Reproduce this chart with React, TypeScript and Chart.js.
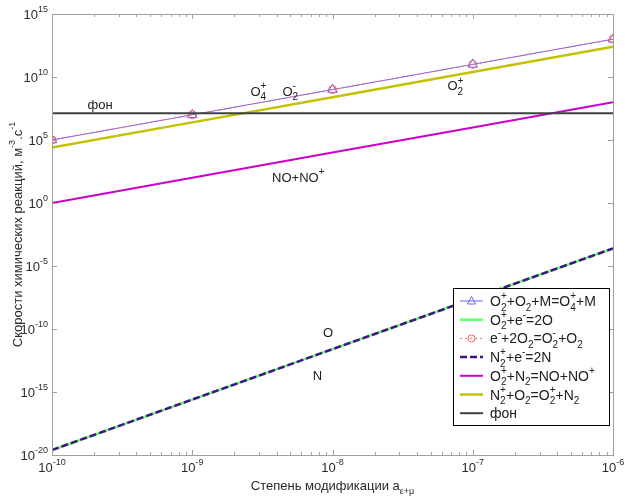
import React, { useEffect, useRef } from 'react';
import { Chart, registerables } from 'chart.js';

Chart.register(...registerables);

// ---- data ----
const modification = [1e-10, 1e-9, 1e-8, 1e-7, 1e-6];
const rateO4 = [1e5, 1e7, 1e9, 1e11, 1e13];
const rateO2e = [2.5e-20, 2.5e-16, 2.5e-12, 2.5e-8, 2.5e-4];
const rateO2minus = [1e5, 1e7, 1e9, 1e11, 1e13];
const rateN = [2.5e-20, 2.5e-16, 2.5e-12, 2.5e-8, 2.5e-4];
const rateNO = [1, 1e2, 1e4, 1e6, 1e8];
const rateCharge = [2.5e4, 2.5e6, 2.5e8, 2.5e10, 2.5e12];
const rateFon = [1.3e7, 1.3e7, 1.3e7, 1.3e7, 1.3e7];

const xTickExps = [-10, -9, -8, -7, -6];
const yTickExps = [-20, -15, -10, -5, 0, 5, 10, 15];

type Seg = { t: string; sub?: string; sup?: string };

const legendLabels: Seg[][] = [
  [{ t: 'O', sub: '2', sup: '+' }, { t: '+O', sub: '2' }, { t: '+M=O', sub: '4', sup: '+' }, { t: '+M' }],
  [{ t: 'O', sub: '2', sup: '+' }, { t: '+e', sup: '-' }, { t: '=2O' }],
  [{ t: 'e', sup: '-' }, { t: '+2O', sub: '2' }, { t: '=O', sub: '2', sup: '-' }, { t: '+O', sub: '2' }],
  [{ t: 'N', sub: '2', sup: '+' }, { t: '+e', sup: '-' }, { t: '=2N' }],
  [{ t: 'O', sub: '2', sup: '+' }, { t: '+N', sub: '2' }, { t: '=NO+NO', sup: '+' }],
  [{ t: 'N', sub: '2', sup: '+' }, { t: '+O', sub: '2' }, { t: '=O', sub: '2', sup: '+' }, { t: '+N', sub: '2' }],
  [{ t: 'фон' }],
];
const seriesNames = [
  'O2+ + O2 + M = O4+ + M',
  'O2+ + e- = 2O',
  'e- + 2O2 = O2- + O2',
  'N2+ + e- = 2N',
  'O2+ + N2 = NO + NO+',
  'N2+ + O2 = O2+ + N2',
  'фон',
];

// annotations (data coordinates)
const annotations: { x: number; y: number; segs: Seg[]; align: 'left' | 'center' }[] = [
  { x: 2.2e-10, y: 7e7, segs: [{ t: 'фон' }], align: 'center' },
  { x: 2.6e-9, y: 8e8, segs: [{ t: 'O', sub: '4', sup: '+' }], align: 'left' },
  { x: 4.4e-9, y: 8e8, segs: [{ t: 'O', sub: '2', sup: '-' }], align: 'left' },
  { x: 6.6e-8, y: 2e9, segs: [{ t: 'O', sub: '2', sup: '+' }], align: 'left' },
  { x: 5.7e-9, y: 1.1e2, segs: [{ t: 'NO+NO', sup: '+' }], align: 'center' },
  { x: 9.3e-9, y: 5e-11, segs: [{ t: 'O' }], align: 'center' },
  { x: 7.8e-9, y: 2.2e-14, segs: [{ t: 'N' }], align: 'center' },
];

const FONT = '"Liberation Sans", Arial, sans-serif';

function richWidth(ctx: CanvasRenderingContext2D, segs: Seg[], size: number, small: number) {
  let w = 0;
  for (const s of segs) {
    ctx.font = `${size}px ${FONT}`;
    w += ctx.measureText(s.t).width;
    if (s.sub || s.sup) {
      ctx.font = `${small}px ${FONT}`;
      w += Math.max(s.sub ? ctx.measureText(s.sub).width : 0, s.sup ? ctx.measureText(s.sup).width : 0);
    }
  }
  return w;
}

function drawRich(
  ctx: CanvasRenderingContext2D,
  segs: Seg[],
  x: number,
  y: number,
  size: number,
  small: number,
  align: 'left' | 'center' | 'right',
  color: string
) {
  const w = richWidth(ctx, segs, size, small);
  let cx = align === 'left' ? x : align === 'center' ? x - w / 2 : x - w;
  const base = y + size * 0.36;
  ctx.fillStyle = color;
  ctx.textAlign = 'left';
  ctx.textBaseline = 'alphabetic';
  for (const s of segs) {
    ctx.font = `${size}px ${FONT}`;
    ctx.fillText(s.t, cx, base);
    cx += ctx.measureText(s.t).width;
    if (s.sub || s.sup) {
      ctx.font = `${small}px ${FONT}`;
      let sw = 0;
      if (s.sub) {
        ctx.fillText(s.sub, cx, base + size * 0.32);
        sw = Math.max(sw, ctx.measureText(s.sub).width);
      }
      if (s.sup) {
        ctx.fillText(s.sup, cx, base - size * 0.5);
        sw = Math.max(sw, ctx.measureText(s.sup).width);
      }
      cx += sw;
    }
  }
}

const COLORS = {
  blue: '#6464ff',
  green: '#66ff66',
  red: '#ff6060',
  purple: '#44128f',
  magenta: '#cc00cc',
  olive: '#c2c200',
  black: '#404040',
};

const styles = [
  { color: COLORS.blue, width: 1, dash: [] as number[], marker: 'triangle', r: 5.5 },
  { color: COLORS.green, width: 2.5, dash: [] as number[], marker: '', r: 0 },
  { color: COLORS.red, width: 1, dash: [2, 3], marker: 'circle', r: 4 },
  { color: COLORS.purple, width: 2.5, dash: [7, 3], marker: '', r: 0 },
  { color: COLORS.magenta, width: 2, dash: [] as number[], marker: '', r: 0 },
  { color: COLORS.olive, width: 2.5, dash: [] as number[], marker: '', r: 0 },
  { color: COLORS.black, width: 2, dash: [] as number[], marker: '', r: 0 },
];

const seriesValues = [rateO4, rateO2e, rateO2minus, rateN, rateNO, rateCharge, rateFon];

const decorPlugin = {
  id: 'decor',
  afterDatasetsDraw(chart: any) {
    const ctx: CanvasRenderingContext2D = chart.ctx;
    const { left, right, top, bottom } = chart.chartArea;
    const xs = chart.scales.x;
    const ys = chart.scales.y;
    ctx.save();
    // frame
    ctx.strokeStyle = '#a0a0a0';
    ctx.lineWidth = 1;
    ctx.setLineDash([]);
    ctx.strokeRect(Math.round(left) + 0.5, Math.round(top) + 0.5, Math.round(right - left), Math.round(bottom - top));
    // x ticks
    ctx.beginPath();
    for (let e = -10; e <= -6; e++) {
      for (let k = 1; k <= 9; k++) {
        const v = k * Math.pow(10, e);
        if (v > 1e-6 * 1.0001) continue;
        const px = Math.round(xs.getPixelForValue(v)) + 0.5;
        const len = k === 1 ? 5 : 3;
        ctx.moveTo(px, bottom);
        ctx.lineTo(px, bottom - len);
        ctx.moveTo(px, top);
        ctx.lineTo(px, top + len);
      }
    }
    for (const e of yTickExps) {
      const py = Math.round(ys.getPixelForValue(Math.pow(10, e))) + 0.5;
      ctx.moveTo(left, py);
      ctx.lineTo(left + 5, py);
      ctx.moveTo(right, py);
      ctx.lineTo(right - 5, py);
    }
    ctx.stroke();

    // tick labels
    const tc = '#2a2a2a';
    for (const e of xTickExps) {
      const px = xs.getPixelForValue(Math.pow(10, e));
      drawRich(ctx, [{ t: '10', sup: String(e) }], px, bottom + 12, 13, 9, 'center', tc);
    }
    for (const e of yTickExps) {
      const py = ys.getPixelForValue(Math.pow(10, e));
      drawRich(ctx, [{ t: '10', sup: String(e) }], left - 4, py, 13, 9, 'right', tc);
    }

    // axis titles
    drawRich(
      ctx,
      [{ t: 'Степень модификации a', sub: 'ε+μ' }],
      (left + right) / 2,
      bottom + 30,
      13,
      9,
      'center',
      tc
    );
    ctx.save();
    ctx.translate(17, (top + bottom) / 2);
    ctx.rotate(-Math.PI / 2);
    drawRich(
      ctx,
      [{ t: 'Скорости химических реакций, м', sup: '-3' }, { t: '.с', sup: '-1' }],
      0,
      0,
      13,
      9,
      'center',
      tc
    );
    ctx.restore();

    // annotations
    for (const a of annotations) {
      const px = xs.getPixelForValue(a.x);
      const py = ys.getPixelForValue(a.y);
      drawRich(ctx, a.segs, px, py, 13, 10, a.align, '#202020');
    }

    // legend
    const lx0 = right - 160;
    const ly0 = bottom - 167;
    const lw = 156;
    const rowH = 18.7;
    const lh = rowH * legendLabels.length + 6;
    ctx.fillStyle = '#ffffff';
    ctx.fillRect(lx0, ly0, lw, lh);
    ctx.strokeStyle = '#000000';
    ctx.lineWidth = 1;
    ctx.strokeRect(Math.round(lx0) + 0.5, Math.round(ly0) + 0.5, lw, Math.round(lh));
    legendLabels.forEach((segs, i) => {
      const st = styles[i];
      const cy = ly0 + 13 + i * rowH;
      const sx0 = lx0 + 7;
      const sx1 = lx0 + 30;
      ctx.beginPath();
      ctx.strokeStyle = st.color;
      ctx.lineWidth = st.width;
      ctx.setLineDash(st.dash);
      ctx.moveTo(sx0, cy);
      ctx.lineTo(sx1, cy);
      ctx.stroke();
      ctx.setLineDash([]);
      const mx = (sx0 + sx1) / 2;
      if (st.marker === 'triangle') {
        ctx.beginPath();
        ctx.lineWidth = 1;
        ctx.moveTo(mx, cy - 4.5);
        ctx.lineTo(mx + 4, cy + 3);
        ctx.lineTo(mx - 4, cy + 3);
        ctx.closePath();
        ctx.stroke();
      } else if (st.marker === 'circle') {
        ctx.beginPath();
        ctx.lineWidth = 1;
        ctx.arc(mx, cy, 3.5, 0, Math.PI * 2);
        ctx.stroke();
      }
      drawRich(ctx, segs, lx0 + 37, cy, 14, 10, 'left', '#202020');
    });
    ctx.restore();
  },
};

export default function App() {
  const ref = useRef<HTMLCanvasElement | null>(null);
  useEffect(() => {
    if (!ref.current) return;
    const datasets = seriesValues.map((vals, i) => {
      const st = styles[i];
      return {
        label: seriesNames[i],
        data: modification.map((x, j) => ({ x, y: vals[j] })),
        borderColor: st.color,
        backgroundColor: 'rgba(0,0,0,0)',
        borderWidth: st.width,
        borderDash: st.dash,
        pointStyle: st.marker || 'circle',
        pointRadius: st.r,
        pointBorderColor: st.color,
        pointBackgroundColor: 'rgba(0,0,0,0)',
        pointBorderWidth: 1,
        fill: false,
        tension: 0,
        order: 10 - i,
      };
    });
    const chart = new Chart(ref.current, {
      type: 'line',
      data: { datasets },
      options: {
        animation: false,
        responsive: false,
        maintainAspectRatio: false,
        layout: { padding: { top: 14, right: 12, left: 0, bottom: 0 } },
        plugins: { legend: { display: false }, tooltip: { enabled: false } },
        scales: {
          x: {
            type: 'logarithmic',
            min: 1e-10,
            max: 1e-6,
            grid: { display: false },
            border: { display: false },
            ticks: { display: false },
            afterFit: (s: any) => {
              s.height = 44;
            },
          },
          y: {
            type: 'logarithmic',
            min: 1e-20,
            max: 1e15,
            grid: { display: false },
            border: { display: false },
            ticks: { display: false },
            afterFit: (s: any) => {
              s.width = 52;
            },
          },
        },
      } as any,
      plugins: [decorPlugin],
    });
    return () => chart.destroy();
  }, []);
  return (
    <div style={{ position: 'absolute', left: 0, top: 0, width: 625, height: 499, background: '#fff' }}>
      <canvas ref={ref} width={625} height={499} style={{ display: 'block' }} />
    </div>
  );
}
